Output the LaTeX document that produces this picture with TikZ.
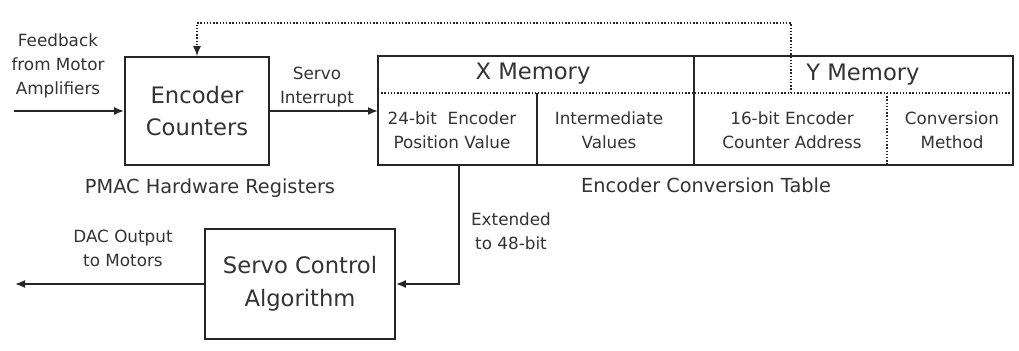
\documentclass[tikz,border=0pt]{standalone}
\usepackage{fontspec}
\setmainfont{DejaVu Sans}
\usetikzlibrary{arrows.meta}
\definecolor{ink}{HTML}{262626}
\definecolor{txt}{HTML}{333333}
\begin{document}
\begin{tikzpicture}[x=0.75pt,y=-0.75pt,
  box/.style={draw=ink, line width=1.3pt, inner sep=0pt},
  conn/.style={draw=ink, line width=1.3pt, -{Latex[length=7.5pt,width=6pt]}},
  dots/.style={draw=ink, line width=1.1pt, dash pattern=on 1.1pt off 1.3pt},
  small/.style={font=\fontsize{12.6}{18}\selectfont, text=txt, align=center, inner sep=0pt},
  big/.style={font=\fontsize{17}{24.5}\selectfont, text=txt, align=center},
  caption/.style={font=\fontsize{14.5}{18}\selectfont, text=txt, inner sep=0pt}]
\useasboundingbox (0,0) rectangle (1019,350);

% main blocks
\node[box, minimum width=108pt, minimum height=81pt, big] (enc) at (197,111) {Encoder\\Counters};
\node[box, minimum width=142.5pt, minimum height=82.5pt, big] (servo) at (300,284) {Servo Control\\Algorithm};

% encoder conversion table: outer frame
\node[box, minimum width=476.25pt, minimum height=81.75pt] (ect) at (695.5,110.5) {};
\coordinate (xl) at (378,93);
\coordinate (yr) at (1013,93);
\coordinate (mid) at (694,56);
\coordinate (midb) at (694,165);
\draw[ink, line width=1.3pt] (mid) -- (midb);
\draw[dots] (xl) -- (yr);
\draw[ink, line width=1.3pt] (537,93) -- (537,165);
\draw[dots] (887,93) -- (887,165);

% table headers and cells
\node[big, inner sep=0pt] (xmem) at (533,74) {X Memory};
\node[big, inner sep=0pt] (ymem) at (863,75) {Y Memory};
\node[small] (pos) at (452,130) {24-bit\ \ Encoder\\Position Value};
\node[small] (inter) at (609,130) {Intermediate\\Values};
\node[small] (addr) at (792,130) {16-bit Encoder\\Counter Address};
\node[small] (meth) at (952,130) {Conversion\\Method};

% captions
\node[caption] (pmac) at (210,188) {PMAC Hardware Registers};
\node[caption] (ectlbl) at (706,185) {Encoder Conversion Table};

% connector labels
\node[small] (fb) at (58,66) {Feedback\\from Motor\\Amplifiers};
\node[small] (si) at (317,87) {Servo\\Interrupt};
\node[small] (ext) at (511,231) {Extended\\to 48-bit};
\node[small] (dac) at (123,248) {DAC Output\\to Motors};

% connectors
\coordinate (fbin) at (14,111);
\coordinate (dacout) at (15,284);
\coordinate (ectin) at (378,111);
\coordinate (posout) at (459,165);
\coordinate (loopa) at (791,93);
\coordinate (loopb) at (791,23);
\coordinate (loopc) at (197,23);

\draw[conn] (fbin) -- (enc.west);
\draw[conn] (enc.east) -- (ectin);
\draw[conn] (posout) |- (servo.east);
\draw[conn] (servo.west) -- (dacout);
\draw[dots] (loopa) -- (loopb) -- (loopc) -- ([yshift=5pt]enc.north);
\draw[ink, line width=1.1pt, -{Latex[length=7.5pt,width=6pt]}] ([yshift=6pt]enc.north) -- (enc.north);
\end{tikzpicture}
\end{document}
